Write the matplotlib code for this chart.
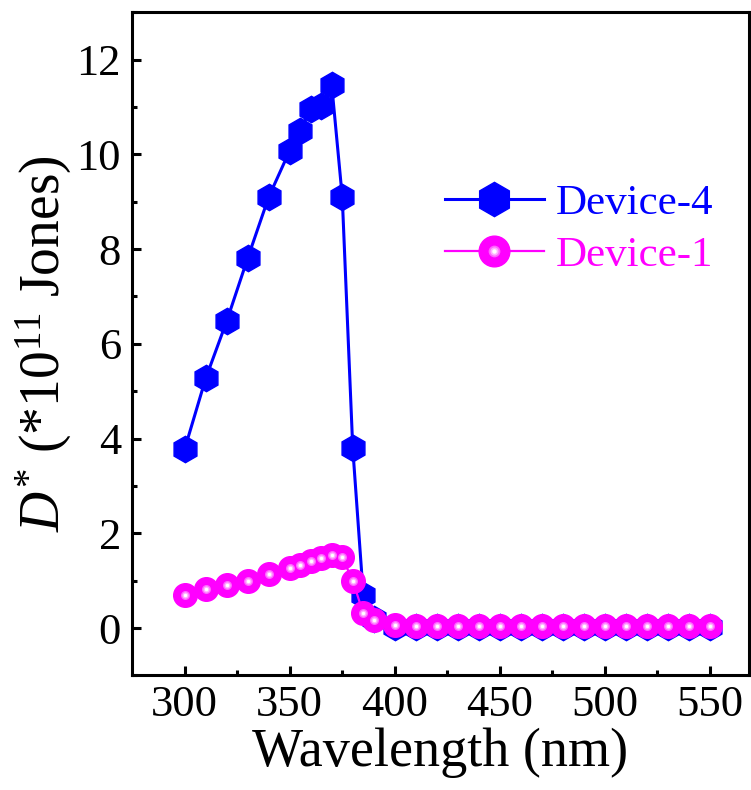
import matplotlib
matplotlib.use("Agg")
import matplotlib.pyplot as plt
from matplotlib.legend_handler import HandlerTuple

plt.rcParams["font.family"] = ["Liberation Serif", "DejaVu Serif"]
plt.rcParams["mathtext.fontset"] = "custom"
plt.rcParams["mathtext.rm"] = "Liberation Serif"
plt.rcParams["mathtext.it"] = "Liberation Serif:italic"

# wavelength (nm)
wavelength = [300, 310, 320, 330, 340, 350, 355, 360, 365, 370, 375, 380, 385, 390,
              400, 410, 420, 430, 440, 450, 460, 470, 480, 490, 500, 510, 520, 530, 540, 550]
# D* (x1e11 Jones)
device4 = [3.78, 5.27, 6.48, 7.81, 9.10, 10.08, 10.50, 10.96, 11.03, 11.46, 9.10, 3.80, 0.70, 0.20,
           0.03, 0.03, 0.03, 0.03, 0.03, 0.03, 0.03, 0.03, 0.03, 0.03, 0.03, 0.03, 0.03, 0.03, 0.03, 0.03]
device1 = [0.70, 0.83, 0.91, 1.00, 1.14, 1.27, 1.33, 1.42, 1.48, 1.55, 1.49, 1.00, 0.31, 0.18,
           0.06, 0.05, 0.05, 0.05, 0.05, 0.05, 0.05, 0.05, 0.05, 0.05, 0.05, 0.05, 0.05, 0.05, 0.05, 0.05]

fig = plt.figure(figsize=(7.51, 7.90), dpi=100)
ax = fig.add_axes([0.176, 0.145, 0.821, 0.8395])

blue, = ax.plot(wavelength, device4, color="#0000ff", lw=2.2, marker="h",
                ms=19, mec="#0000ff", mfc="#0000ff", zorder=3)

# magenta "spheres": base marker plus lighter layers for the highlight
pink, = ax.plot(wavelength, device1, color="#ff00ff", lw=1.6, marker="o",
                ms=17, mec="#ff00ff", mfc="#ff00ff", zorder=4)
pink_mid, = ax.plot(wavelength, device1, ls="none", marker="o", ms=6.5,
                    mec="none", mfc="#ff66ff", zorder=5)
pink_in, = ax.plot(wavelength, device1, ls="none", marker="o", ms=4.5,
                   mec="none", mfc="#ffb0ff", zorder=6)
pink_hi, = ax.plot(wavelength, device1, ls="none", marker="o", ms=2.5,
                   mec="none", mfc="#ffffff", zorder=7)

ax.set_xlim(275, 568.5)
ax.set_ylim(-1, 13)
ax.set_xticks([300, 350, 400, 450, 500, 550])
ax.set_xticks([325, 375, 425, 475, 525], minor=True)
ax.set_yticks([0, 2, 4, 6, 8, 10, 12])
ax.set_yticks([-1, 1, 3, 5, 7, 9, 11, 13], minor=True)

ax.tick_params(which="both", direction="in", top=False, right=False, width=2.2,
               labelsize=32)
ax.tick_params(which="major", length=6.5)
ax.tick_params(which="minor", length=3.5)
ax.tick_params(axis="x", pad=7)
ax.tick_params(axis="y", pad=8)
for sp in ax.spines.values():
    sp.set_linewidth(2.2)

ax.set_xlabel("Wavelength (nm)", fontsize=39, labelpad=2)
ax.set_ylabel(r"$\mathit{D}^{*}$ (*10$^{11}$ Jones)", fontsize=40, labelpad=2)

leg = ax.legend([blue, (pink, pink_mid, pink_in, pink_hi)], ["Device-4", "Device-1"],
                handler_map={tuple: HandlerTuple(ndivide=1, pad=0)},
                loc="upper left", bbox_to_anchor=(0.479, 0.767), frameon=False,
                fontsize=31, handlelength=2.3, handletextpad=0.28, labelspacing=0.3,
                borderaxespad=0, markerscale=1.3)
leg.get_texts()[0].set_color("#0000ff")
leg.get_texts()[1].set_color("#ff00ff")

fig.savefig("out.png", dpi=100)
